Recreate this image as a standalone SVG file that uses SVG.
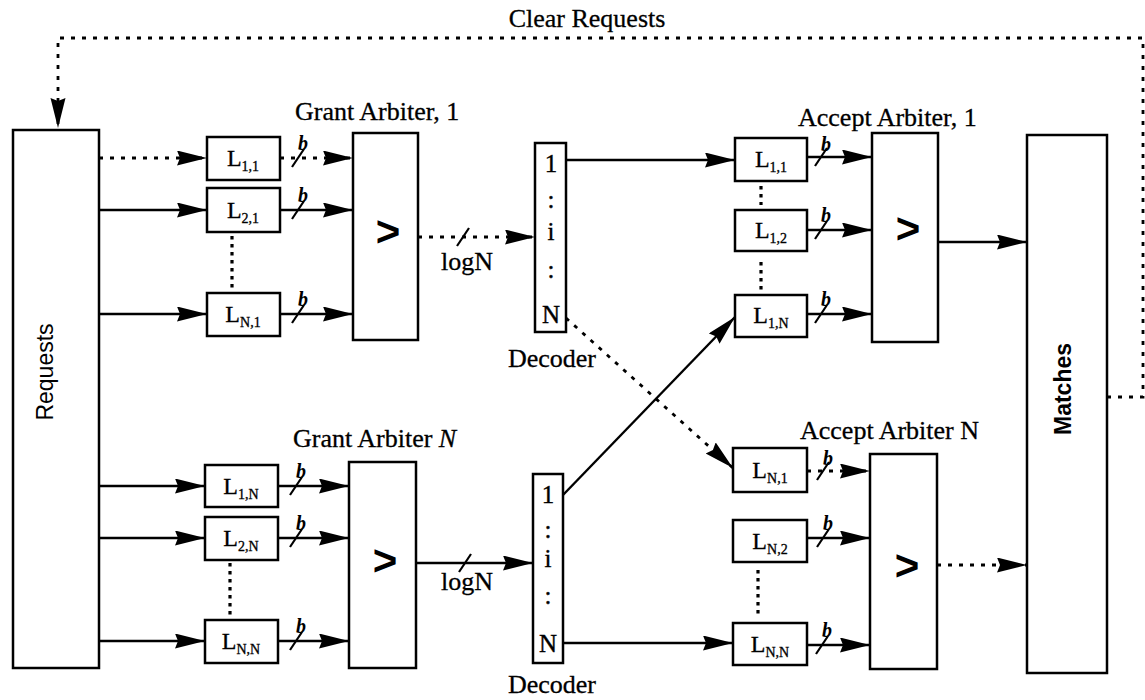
<svg xmlns="http://www.w3.org/2000/svg" width="1145" height="700" viewBox="0 0 1145 700">
<style>
  .box{fill:#fff;stroke:#000;stroke-width:2.5}
  .w{fill:none;stroke:#000;stroke-width:2.4}
  .d{fill:none;stroke:#000;stroke-width:2.8;stroke-dasharray:4 7}
  .dots{fill:none;stroke:#000;stroke-width:3.2;stroke-dasharray:3.5 4.5}
  .sl{stroke:#000;stroke-width:2.2}
  .lbl{font-family:"Liberation Serif",serif;font-size:26px;fill:#000;stroke:#000;stroke-width:0.3}
  .lt{font-family:"Liberation Serif",serif;font-size:24px;fill:#000;text-anchor:middle;stroke:#000;stroke-width:0.3}
  .sub{font-size:14px}
  .b{font-family:"Liberation Serif",serif;font-size:20px;font-style:italic;font-weight:bold;fill:#000;text-anchor:middle}
  .gt{font-family:"Liberation Sans",sans-serif;font-size:42px;font-weight:bold;fill:#000;text-anchor:middle}
  .dec{font-family:"Liberation Serif",serif;font-size:25px;fill:#000;text-anchor:middle;stroke:#000;stroke-width:0.4}
  .side{font-family:"Liberation Sans",sans-serif;font-size:23px;fill:#000;text-anchor:middle}
</style>
<defs>
  <marker id="ah" markerUnits="userSpaceOnUse" markerWidth="32" markerHeight="16" refX="30" refY="7.5" orient="auto">
    <path d="M0,0 L30,7.5 L0,15 L3,7.5 Z" fill="#000"/>
  </marker>
</defs>

<!-- Labels -->
<text class="lbl" x="587" y="27" text-anchor="middle">Clear Requests</text>
<text class="lbl" x="295" y="120">Grant Arbiter, 1</text>
<text class="lbl" x="293" y="447">Grant Arbiter <tspan font-style="italic">N</tspan></text>
<text class="lbl" x="798" y="126">Accept Arbiter, 1</text>
<text class="lbl" x="800" y="439">Accept Arbiter N</text>
<text class="lbl" x="552" y="367" text-anchor="middle">Decoder</text>
<text class="lbl" x="552" y="693" text-anchor="middle">Decoder</text>
<text class="lbl" x="467" y="270" text-anchor="middle">logN</text>
<text class="lbl" x="467" y="590" text-anchor="middle">logN</text>

<!-- Connectors -->
<g id="connectors">
  <path class="d" d="M1107,397 H1143 V38 H58 V128" marker-end="url(#ah)"/>
  <path class="d" d="M99,158 H207" marker-end="url(#ah)"/>
  <path class="w" d="M99,210 H207" marker-end="url(#ah)"/>
  <path class="w" d="M99,314 H207" marker-end="url(#ah)"/>
  <path class="w" d="M99,486 H205" marker-end="url(#ah)"/>
  <path class="w" d="M99,538 H205" marker-end="url(#ah)"/>
  <path class="w" d="M99,641 H205" marker-end="url(#ah)"/>
  <path class="d" d="M280,158 H353" marker-end="url(#ah)"/>
  <path class="w" d="M280,210 H353" marker-end="url(#ah)"/>
  <path class="w" d="M280,314 H353" marker-end="url(#ah)"/>
  <path class="w" d="M278,486 H349" marker-end="url(#ah)"/>
  <path class="w" d="M278,538 H349" marker-end="url(#ah)"/>
  <path class="w" d="M278,641 H349" marker-end="url(#ah)"/>
  <path class="d" d="M418,237 H535" marker-end="url(#ah)"/>
  <path class="w" d="M416,563 H533" marker-end="url(#ah)"/>
  <path class="w" d="M566,160 H735" marker-end="url(#ah)"/>
  <path class="d" d="M566,318 L733,468" marker-end="url(#ah)"/>
  <path class="w" d="M563,495 L735,317" marker-end="url(#ah)"/>
  <path class="w" d="M563,643 H733" marker-end="url(#ah)"/>
  <path class="w" d="M807,157 H872" marker-end="url(#ah)"/>
  <path class="w" d="M807,230 H872" marker-end="url(#ah)"/>
  <path class="w" d="M807,314 H872" marker-end="url(#ah)"/>
  <path class="d" d="M807,471 H870" marker-end="url(#ah)"/>
  <path class="w" d="M807,538 H870" marker-end="url(#ah)"/>
  <path class="w" d="M807,645 H870" marker-end="url(#ah)"/>
  <path class="w" d="M938,242 H1027" marker-end="url(#ah)"/>
  <path class="d" d="M937,565 H1027" marker-end="url(#ah)"/>
  <path class="dots" d="M232,236 V290"/>
  <path class="dots" d="M230,563 V616"/>
  <path class="dots" d="M761,186 V205"/>
  <path class="dots" d="M761,262 V291"/>
  <path class="dots" d="M758,570 V618"/>
  <line class="sl" x1="292" y1="167" x2="304" y2="149"/>
  <line class="sl" x1="292" y1="219" x2="304" y2="201"/>
  <line class="sl" x1="292" y1="323" x2="304" y2="305"/>
  <line class="sl" x1="290" y1="495" x2="302" y2="477"/>
  <line class="sl" x1="290" y1="547" x2="302" y2="529"/>
  <line class="sl" x1="290" y1="650" x2="302" y2="632"/>
  <line class="sl" x1="815" y1="166" x2="827" y2="148"/>
  <line class="sl" x1="815" y1="239" x2="827" y2="221"/>
  <line class="sl" x1="815" y1="323" x2="827" y2="305"/>
  <line class="sl" x1="817" y1="480" x2="829" y2="462"/>
  <line class="sl" x1="817" y1="547" x2="829" y2="529"/>
  <line class="sl" x1="816" y1="654" x2="828" y2="636"/>
  <line class="sl" x1="457" y1="246" x2="469" y2="228"/>
  <line class="sl" x1="459" y1="572" x2="471" y2="554"/>
  <text class="b" x="303" y="150">b</text>
  <text class="b" x="303" y="202">b</text>
  <text class="b" x="303" y="306">b</text>
  <text class="b" x="301" y="478">b</text>
  <text class="b" x="301" y="530">b</text>
  <text class="b" x="301" y="633">b</text>
  <text class="b" x="826" y="151">b</text>
  <text class="b" x="826" y="222">b</text>
  <text class="b" x="826" y="306">b</text>
  <text class="b" x="828" y="465">b</text>
  <text class="b" x="828" y="530">b</text>
  <text class="b" x="827" y="637">b</text>
</g>

<!-- Nodes -->
<g id="requests">
  <rect class="box" x="13" y="130" width="86" height="538"/>
  <text class="side" transform="translate(53,372) rotate(-90)">Requests</text>
</g>
<g id="matches">
  <rect class="box" x="1027" y="135" width="80" height="538"/>
  <text class="side" font-weight="bold" transform="translate(1071,389) rotate(-90)">Matches</text>
</g>

<g id="g1-L11"><rect class="box" x="207" y="137" width="73" height="43"/><text class="lt" x="243" y="166">L<tspan class="sub" dy="5">1,1</tspan></text></g>
<g id="g1-L21"><rect class="box" x="207" y="188" width="73" height="44"/><text class="lt" x="243" y="218">L<tspan class="sub" dy="5">2,1</tspan></text></g>
<g id="g1-LN1"><rect class="box" x="207" y="293" width="73" height="43"/><text class="lt" x="243" y="322">L<tspan class="sub" dy="5">N,1</tspan></text></g>
<g id="grant1"><rect class="box" x="353" y="133" width="65" height="207"/><text class="gt" x="388" y="246">&gt;</text></g>

<g id="gN-L1N"><rect class="box" x="205" y="465" width="73" height="42"/><text class="lt" x="241" y="494">L<tspan class="sub" dy="5">1,N</tspan></text></g>
<g id="gN-L2N"><rect class="box" x="205" y="517" width="73" height="43"/><text class="lt" x="241" y="546">L<tspan class="sub" dy="5">2,N</tspan></text></g>
<g id="gN-LNN"><rect class="box" x="205" y="620" width="73" height="43"/><text class="lt" x="241" y="649">L<tspan class="sub" dy="5">N,N</tspan></text></g>
<g id="grantN"><rect class="box" x="349" y="462" width="67" height="206"/><text class="gt" x="385" y="575">&gt;</text></g>

<g id="decoder1">
  <rect class="box" x="535" y="143" width="31" height="189"/>
  <text class="dec" x="551" y="172">1</text>
  <text class="dec" x="551" y="208">:</text>
  <text class="dec" x="551" y="240">i</text>
  <text class="dec" x="551" y="278">:</text>
  <text class="dec" x="551" y="323">N</text>
</g>
<g id="decoderN">
  <rect class="box" x="533" y="474" width="30" height="189"/>
  <text class="dec" x="548" y="503">1</text>
  <text class="dec" x="548" y="538">:</text>
  <text class="dec" x="548" y="567">i</text>
  <text class="dec" x="548" y="604">:</text>
  <text class="dec" x="548" y="652">N</text>
</g>

<g id="a1-L11"><rect class="box" x="735" y="138" width="72" height="43"/><text class="lt" x="771" y="167">L<tspan class="sub" dy="5">1,1</tspan></text></g>
<g id="a1-L12"><rect class="box" x="735" y="210" width="72" height="41"/><text class="lt" x="771" y="238">L<tspan class="sub" dy="5">1,2</tspan></text></g>
<g id="a1-L1N"><rect class="box" x="735" y="295" width="72" height="42"/><text class="lt" x="771" y="323">L<tspan class="sub" dy="5">1,N</tspan></text></g>
<g id="accept1"><rect class="box" x="872" y="133" width="66" height="209"/><text class="gt" x="908" y="243">&gt;</text></g>

<g id="aN-LN1"><rect class="box" x="733" y="448" width="74" height="44"/><text class="lt" x="770" y="478">L<tspan class="sub" dy="5">N,1</tspan></text></g>
<g id="aN-LN2"><rect class="box" x="733" y="520" width="74" height="42"/><text class="lt" x="770" y="549">L<tspan class="sub" dy="5">N,2</tspan></text></g>
<g id="aN-LNN"><rect class="box" x="733" y="623" width="74" height="42"/><text class="lt" x="770" y="652">L<tspan class="sub" dy="5">N,N</tspan></text></g>
<g id="acceptN"><rect class="box" x="870" y="454" width="67" height="215"/><text class="gt" x="907" y="580">&gt;</text></g>
</svg>
